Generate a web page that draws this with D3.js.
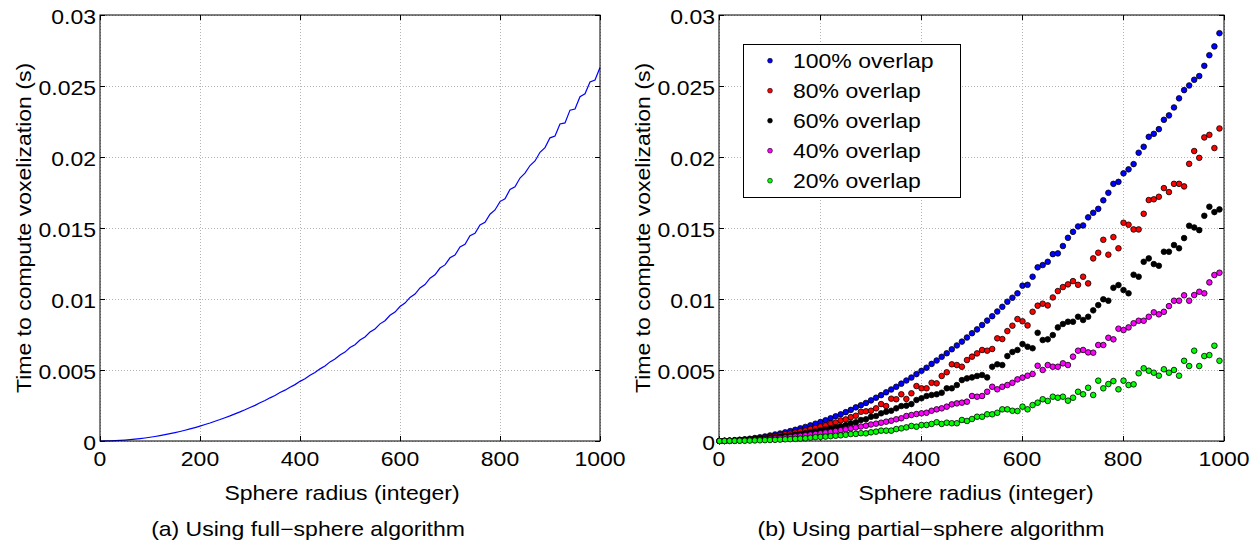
<!DOCTYPE html>
<html>
<head>
<meta charset="utf-8">
<script src="https://cdn.jsdelivr.net/npm/d3@7"></script>
<style>
  body { margin: 0; background: #fff; }
  text { font-family: "Liberation Sans", Arial, Helvetica, sans-serif; font-size: 20px; fill: #000; }
</style>
</head>
<body>
<svg id="chart" width="1260" height="545"></svg>
<script>
// ---- data (times in milliseconds) ----
const fullRadius = d3.range(0, 1001, 10);
const fullMs = [
  0, 0.003, 0.011, 0.024, 0.042, 0.066, 0.094, 0.128, 0.168, 0.212,
  0.262, 0.317, 0.377, 0.443, 0.514, 0.590, 0.671, 0.757, 0.849, 0.946,
  1.05, 1.16, 1.27, 1.39, 1.51, 1.64, 1.77, 1.91, 2.05, 2.20,
  2.36, 2.51, 2.69, 2.85, 3.04, 3.20, 3.41, 3.58, 3.79, 3.97,
  4.20, 4.38, 4.63, 4.82, 5.08, 5.28, 5.57, 5.77, 6.06, 6.26,
  6.58, 6.78, 7.11, 7.33, 7.67, 7.89, 8.25, 8.47, 8.85, 9.08,
  9.47, 9.71, 10.11, 10.35, 10.78, 11.02, 11.47, 11.70, 12.18, 12.40,
  12.90, 13.10, 13.66, 13.85, 14.45, 14.62, 15.22, 15.40, 15.97, 16.27,
  16.86, 17.05, 17.72, 17.90, 18.52, 18.86, 19.40, 19.72, 20.33, 20.66,
  21.35, 21.48, 22.33, 22.40, 23.30, 23.38, 24.25, 24.45, 25.28, 25.42,
  26.30
];

const partialRadius = d3.range(1, 1000, 10);
const overlap100 = [
  0, 0.01, 0.03, 0.06, 0.09, 0.12, 0.16, 0.21, 0.26, 0.32,
  0.39, 0.46, 0.53, 0.61, 0.70, 0.79, 0.89, 0.99, 1.10, 1.22,
  1.34, 1.46, 1.60, 1.74, 1.88, 2.03, 2.19, 2.37, 2.52, 2.68,
  2.86, 3.05, 3.23, 3.43, 3.63, 3.82, 4.04, 4.26, 4.47, 4.71,
  4.94, 5.16, 5.43, 5.67, 5.93, 6.18, 6.46, 6.73, 7.00, 7.29,
  7.59, 7.86, 8.17, 8.48, 8.79, 9.12, 9.45, 9.81, 10.09, 10.40,
  10.94, 11.00, 11.57, 12.23, 12.39, 12.62, 13.16, 13.21, 13.73, 14.31,
  14.73, 15.11, 15.18, 15.75, 16.07, 16.35, 16.95, 17.48, 18.11, 18.25,
  18.85, 19.13, 19.50, 20.30, 20.72, 21.42, 21.63, 21.96, 22.62, 22.93,
  23.49, 24.13, 24.71, 25.04, 25.44, 25.70, 26.42, 27.17, 27.79, 28.72
];
const overlap80 = [
  0, 0.01, 0.02, 0.04, 0.07, 0.09, 0.12, 0.16, 0.20, 0.25,
  0.29, 0.35, 0.40, 0.47, 0.52, 0.60, 0.68, 0.74, 0.85, 0.92,
  1.02, 1.10, 1.23, 1.30, 1.45, 1.52, 1.68, 1.78, 2.06, 2.09,
  2.13, 2.30, 2.60, 2.46, 2.98, 2.94, 3.29, 2.96, 3.36, 3.87,
  3.71, 3.71, 4.10, 4.06, 4.58, 4.84, 5.40, 5.35, 5.23, 5.70,
  5.94, 6.17, 6.41, 6.36, 6.48, 7.23, 7.18, 7.74, 8.12, 8.59,
  8.43, 8.14, 9.10, 9.53, 9.67, 9.55, 10.11, 10.56, 10.84, 11.03,
  11.26, 11.00, 11.57, 11.10, 12.86, 13.26, 14.17, 13.12, 14.36, 13.57,
  15.37, 15.23, 14.90, 14.90, 16.00, 16.97, 17.02, 17.20, 17.81, 17.53,
  18.11, 18.11, 17.93, 19.52, 20.42, 19.94, 21.38, 21.56, 20.63, 22.01
];
const overlap60 = [
  0, 0.01, 0.02, 0.03, 0.05, 0.07, 0.09, 0.12, 0.15, 0.18,
  0.21, 0.25, 0.29, 0.34, 0.38, 0.44, 0.49, 0.55, 0.61, 0.67,
  0.74, 0.81, 0.88, 0.96, 1.04, 1.12, 1.25, 1.32, 1.48, 1.53,
  1.71, 1.76, 1.95, 2.06, 2.13, 2.30, 2.46, 2.49, 2.60, 2.89,
  3.01, 3.17, 3.24, 3.29, 3.40, 3.71, 3.71, 3.94, 4.29, 4.41,
  4.48, 4.58, 4.65, 4.48, 5.23, 5.40, 5.35, 5.98, 6.27, 6.41,
  6.83, 6.64, 6.53, 7.62, 7.11, 7.16, 7.46, 8.00, 8.24, 8.40,
  8.40, 8.75, 8.52, 8.75, 9.20, 9.57, 9.98, 9.88, 10.79, 10.98,
  10.63, 10.40, 11.71, 11.57, 12.62, 12.86, 12.46, 12.34, 13.33, 13.33,
  13.80, 13.57, 14.29, 15.16, 15.04, 14.85, 15.86, 16.50, 16.12, 16.31
];
const overlap40 = [
  0, 0.01, 0.01, 0.02, 0.04, 0.05, 0.07, 0.09, 0.11, 0.13,
  0.16, 0.18, 0.21, 0.25, 0.28, 0.32, 0.36, 0.40, 0.45, 0.49,
  0.54, 0.59, 0.64, 0.70, 0.76, 0.82, 0.88, 0.95, 1.02, 1.08,
  1.16, 1.22, 1.29, 1.36, 1.43, 1.53, 1.60, 1.76, 1.83, 1.90,
  1.95, 1.99, 2.13, 2.23, 2.30, 2.42, 2.58, 2.65, 2.70, 2.77,
  3.17, 3.12, 3.17, 3.47, 3.82, 3.64, 3.82, 3.94, 4.10, 4.34,
  4.46, 4.60, 4.72, 5.30, 5.00, 5.35, 5.23, 5.23, 5.47, 5.35,
  5.94, 6.36, 6.41, 6.24, 6.22, 6.76, 6.76, 7.27, 7.16, 7.91,
  7.81, 8.00, 8.29, 8.47, 8.47, 8.75, 9.06, 8.92, 9.10, 9.50,
  9.88, 9.88, 10.26, 9.88, 10.28, 10.51, 10.40, 11.17, 11.69, 11.85
];
const overlap20 = [
  0, 0, 0.01, 0.01, 0.02, 0.02, 0.03, 0.04, 0.05, 0.06,
  0.07, 0.08, 0.10, 0.12, 0.13, 0.15, 0.17, 0.19, 0.23, 0.27,
  0.29, 0.31, 0.34, 0.37, 0.40, 0.44, 0.49, 0.50, 0.55, 0.54,
  0.61, 0.66, 0.73, 0.73, 0.73, 0.84, 0.89, 0.96, 1.06, 1.01,
  1.13, 1.13, 1.20, 1.32, 1.20, 1.29, 1.25, 1.25, 1.48, 1.41,
  1.55, 1.71, 1.71, 1.88, 1.88, 1.99, 2.23, 2.23, 2.13, 2.11,
  2.42, 2.23, 2.53, 2.70, 2.94, 2.82, 3.12, 3.05, 3.12, 2.84,
  3.05, 3.47, 3.29, 3.75, 3.24, 4.25, 3.71, 4.01, 4.22, 3.64,
  4.25, 3.94, 3.99, 4.77, 5.12, 4.95, 4.81, 4.60, 5.05, 4.81,
  5.00, 4.60, 5.65, 5.28, 6.36, 5.28, 5.98, 6.05, 6.71, 5.65
];

const seriesLabels = ['100% overlap', '80% overlap', '60% overlap', '40% overlap', '20% overlap'];
const seriesValues = [overlap100, overlap80, overlap60, overlap40, overlap20];
const seriesColors = ['#0000ff', '#ff0000', '#000000', '#ff00ff', '#00ff00'];

const xTicks = [0, 200, 400, 600, 800, 1000];
const yTicks = [0, 0.005, 0.01, 0.015, 0.02, 0.025, 0.03];
const xTitle = 'Sphere radius (integer)';
const yTitle = 'Time to compute voxelization (s)';
const captions = ['(a) Using full\u2212sphere algorithm', '(b) Using partial\u2212sphere algorithm'];

// ---- drawing ----
const svg = d3.select('#chart');
const SX = 1.15;   // the original glyphs are a bit wider than Arial

function stretchText(sel, x, y, str, anchor, angle) {
  return sel.append('text')
    .attr('transform', `translate(${x},${y}) rotate(${angle || 0}) scale(${SX},1)`)
    .attr('text-anchor', anchor)
    .text(str);
}

function drawFrame(p) {
  const g = svg.append('g');
  const x = d3.scaleLinear().domain([0, 1000]).range([p.left, p.right]);
  const y = d3.scaleLinear().domain([0, 0.03]).range([p.bottom, p.top]);
  const h = p.bottom - p.top, w = p.right - p.left;
  const noDomain = s => s.select('.domain').remove();

  // dotted grid
  g.append('g').attr('transform', `translate(0,${p.bottom})`)
    .call(d3.axisBottom(x).tickValues(xTicks).tickSize(-h).tickFormat(''))
    .call(noDomain)
    .selectAll('line').attr('stroke', '#b4b4b4').attr('stroke-dasharray', '1,2');
  g.append('g').attr('transform', `translate(${p.left},0)`)
    .call(d3.axisLeft(y).tickValues(yTicks).tickSize(-w).tickFormat(''))
    .call(noDomain)
    .selectAll('line').attr('stroke', '#b4b4b4').attr('stroke-dasharray', '1,2');

  // inward ticks on all four sides
  const sides = [
    [d3.axisBottom(x).tickValues(xTicks), `translate(0,${p.bottom})`],
    [d3.axisTop(x).tickValues(xTicks), `translate(0,${p.top})`],
    [d3.axisLeft(y).tickValues(yTicks), `translate(${p.left},0)`],
    [d3.axisRight(y).tickValues(yTicks), `translate(${p.right},0)`]
  ];
  sides.forEach(([ax, tr]) => {
    g.append('g').attr('transform', tr)
      .call(ax.tickSizeInner(-5).tickSizeOuter(0).tickFormat(''))
      .call(noDomain)
      .selectAll('line').attr('stroke', '#000');
  });

  // tick labels
  xTicks.forEach(t => stretchText(g, x(t), p.bottom + 25, String(t), 'middle'));
  yTicks.forEach(t => stretchText(g, p.left - 4, y(t) + 8.7, String(+t.toFixed(3)), 'end'));

  // box
  g.append('rect')
    .attr('x', p.left).attr('y', p.top).attr('width', w).attr('height', h)
    .attr('fill', 'none').attr('stroke', '#000').attr('stroke-width', 1);

  // titles
  stretchText(svg, p.xTitleX, 500, xTitle, 'middle');
  stretchText(svg, p.left - 69.5, (p.top + p.bottom) / 2, yTitle, 'middle', -90);
  stretchText(svg, p.captionX, 536, p.caption, 'middle');

  return { x, y, g };
}

// (a) full-sphere
const pa = drawFrame({ left: 100, right: 600, top: 15, bottom: 441, xTitleX: 342, captionX: 308, caption: captions[0] });
pa.g.insert('path', 'rect')
  .datum(fullMs)
  .attr('fill', 'none')
  .attr('stroke', '#0000ff')
  .attr('stroke-width', 1.2)
  .attr('d', d3.line().x((d, i) => pa.x(fullRadius[i])).y(d => pa.y(d / 1000)));

// (b) partial-sphere
const pb = drawFrame({ left: 719, right: 1224, top: 15, bottom: 441, xTitleX: 976, captionX: 931, caption: captions[1] });
seriesValues.forEach((vals, k) => {
  pb.g.append('g')
    .selectAll('circle')
    .data(vals)
    .join('circle')
      .attr('cx', (d, i) => pb.x(partialRadius[i]))
      .attr('cy', d => pb.y(d / 1000))
      .attr('r', 2.8)
      .attr('fill', seriesColors[k])
      .attr('stroke', '#000')
      .attr('stroke-width', 0.8);
});

// legend
const legend = svg.append('g');
legend.append('rect')
  .attr('x', 743.5).attr('y', 44.5).attr('width', 217).attr('height', 153)
  .attr('fill', '#fff').attr('stroke', '#000').attr('stroke-width', 1);
seriesLabels.forEach((name, k) => {
  const cy = 60.7 + 30 * k;
  legend.append('circle')
    .attr('cx', 770).attr('cy', cy).attr('r', 2.4)
    .attr('fill', seriesColors[k]).attr('stroke', '#000').attr('stroke-width', 0.6);
  stretchText(legend, 793, cy + 7.2, name, 'start');
});
</script>
</body>
</html>
